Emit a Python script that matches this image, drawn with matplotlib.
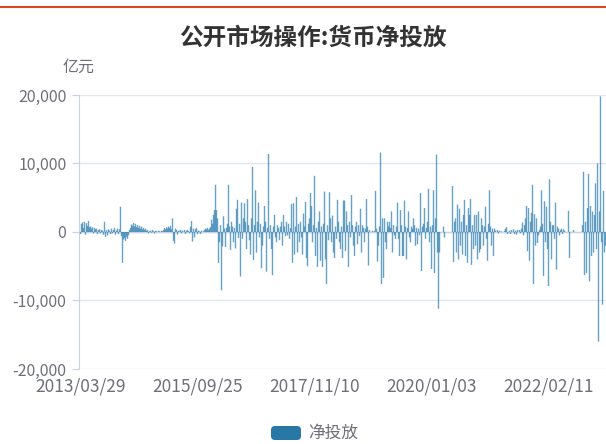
import numpy as np
import matplotlib
matplotlib.use("Agg")
import matplotlib.pyplot as plt
from matplotlib.lines import Line2D
from matplotlib.patches import FancyBboxPatch

plt.rcParams['font.family'] = ['Noto Sans CJK SC', 'DejaVu Sans']

titulo = "公开市场操作:货币净投放"
unidade = "亿元"
serie_nome = "净投放"

# rótulos do eixo x (categorias semanais)
x_labels = ["2013/03/29", "2015/09/25", "2017/11/10", "2020/01/03", "2022/02/11"]
label_step = 117

y_ticks = [-20000, -10000, 0, 10000, 20000]

# valores (亿元), uma barra por coluna
valores = [
    -300, 1200, 1400, 600, 1500, -400, 1300, 900, 1600, 700,
    800, 500, 700, -200, 600, 400, 500, -300, 300, 400,
    -200, 300, 200, -400, 1500, -700, 300, -500, 400, 200,
    -300, 500, -200, 300, 600, -400, 200, 500, -300, 400,
    3700, -600, -4500, -1100, -900, -1300, -700, -1000, -500, 300,
    600, 1100, 900, 1300, 800, 1200, 700, 1000, 600, 900,
    500, 800, 400, 600, 300, 500, 200, 300, -200, 100,
    200, -100, 300, 100, -200, 200, 100, 0, 200, 100,
    0, 200, 100, 300, 600, 400, 700, 500, 800, 600,
    900, 400, 2000, -1300, -1700, 500, 300, -400, 200, 100,
    300, -200, 200, 0, 300, -300, 200, 300, 100, -200,
    800, 1600, -1400, 500, -800, 400, 600, -300, 200, 100,
    -300, 200, 0, 100, 300, 500, 400, 600, 300, 500,
    700, 1800, 1200, 2500, 3200, 6900, 3200, 2000, -4500, -1500,
    1000, -8500, -2100, 2300, 500, -2200, 600, 1200, 6900, 800,
    -2600, 1500, 800, -1500, 600, -2400, 3400, 4700, -900, 1200,
    -6500, 4300, -1000, 2000, 4200, 1500, -2500, 4800, 1000, -1200,
    -3300, 2000, 9500, -4100, 1000, 6100, -3000, 1500, 4300, -800,
    1200, -5300, -2000, 800, 3800, 1500, -5800, 600, 11400, -1000,
    1000, -2500, -6300, 800, 2500, -800, -1500, 1000, 600, -1200,
    800, 1500, -2000, 2500, 800, -600, 1500, -500, 1200, -1000,
    600, 4100, -4500, 4200, -3300, 800, 5100, -3000, 1200, -1500,
    1500, -800, -3300, 2700, 800, 4400, -3800, -5000, 1200, 2000,
    5700, 3800, -1500, 1000, 8200, -3500, 600, -5100, 1500, 3000,
    -4200, 800, -5100, 1200, 5900, -4000, -7600, 1000, -1200, 5800,
    2000, -1500, 2400, -3000, -3800, 800, -1000, 4700, 1500, -1500,
    -2500, 800, -3800, 4600, 4600, -2800, 3000, 1000, -5100, 1500,
    -800, 5400, 1000, -2000, -3500, 800, 1500, -1800, 1000, -600,
    3400, -3000, 1000, 600, -1500, 500, 4800, 800, -4900, 300,
    0, 0, 200, 0, 100, 6000, 500, -4300, -2000, 800,
    11600, -7600, 2000, -6700, 2000, -1500, -2500, 1500, 800, 1500,
    600, 3000, -3000, 1000, -500, -1000, 800, 4300, -1000, -3500,
    3200, 1000, -3500, -3500, 4600, 800, -4000, 600, 3000, -800,
    -1500, 800, 500, 2000, 1000, -2000, 600, -1800, 500, -500,
    5700, -5700, 800, 1200, 3500, -1000, 600, 1500, 6300, -1500,
    800, -5400, 1000, 6100, -6000, 2000, 11300, -3000, -11200, -3000,
    0, 0, 0, 800, -800, 0, 0, 0, 0, 0,
    0, 0, 6700, -4400, 1500, 2000, -3000, 4000, -4000, 3400,
    -2000, 1500, -3300, 2500, 4700, -3500, 1000, -4500, 3500, 2500,
    4800, -4800, 1000, -2500, 2500, -2000, 2500, -4000, 3000, -3000,
    -2500, 2000, 1000, -2000, 800, 3700, -1000, -4200, 1200, 6100,
    800, -2000, 500, -3500, 500, 200, 0, 300, -200, 200,
    0, 100, 0, 0, 200, 500, 700, -300, 0, 200,
    -300, 300, 0, 400, -300, 200, -400, 300, 0, 300,
    -200, 500, 1400, -500, 1000, 2000, 3800, -2800, 3500, -4200,
    1500, 2800, 6900, -7600, 2600, -2000, 2000, -1600, -500, 300,
    800, 6100, 1200, -6400, 4500, -1500, 3700, -2500, -7900, 7700,
    1500, -4000, 1000, 1000, -1000, 4300, -5500, 800, 500, -500,
    300, 500, -300, 400, 200, 0, 0, 0, 3100, -3800,
    0, 0, 0, 300, 0, 0, 0, 0, 0, 0,
    0, 0, 1000, 8800, -6300, 1500, -6000, 3500, 8500, -7200,
    3800, -3500, 3000, -3000, 2500, 7100, -2500, 10000, -16000, 3000,
    19800, -1500, -10600, 6000, -3000, -2000,
]

cor_barra = "#2e7eb0"
cor_texto = "#6e7079"

fig = plt.figure(figsize=(6.06, 4.44), dpi=100)
ax = fig.add_axes([79 / 606, 75 / 444, 527 / 606, 274 / 444])

x = np.arange(len(valores))
barras = ax.bar(x, valores, width=1.4, color=cor_barra, alpha=0.72, linewidth=0, zorder=3)
for b in barras:
    b.set_snap(False)

ax.set_xlim(-1.5, 525.5)
ax.set_ylim(-20000, 20000)
ax.set_yticks(y_ticks)
ax.set_yticklabels([f"{v:,}" for v in y_ticks])
ax.set_xticks([i * label_step for i in range(len(x_labels))])
ax.set_xticklabels(x_labels)

for yv in y_ticks:
    ax.axhline(yv, color="#e0e6f1", lw=1, zorder=1)
ax.axhline(0, color="#c9d3e6", lw=1, zorder=2)

for s in ["top", "right", "bottom"]:
    ax.spines[s].set_visible(False)
ax.spines["left"].set_color("#c9d3e6")
ax.tick_params(axis="y", colors="#c9d3e6", labelcolor=cor_texto, labelsize=11.5, length=5, pad=4)
ax.tick_params(axis="x", length=0, labelcolor=cor_texto, labelsize=12.5, pad=6)

# título e unidade
fig.text(313 / 606, 1 - 38 / 444, titulo, ha="center", va="center",
         fontsize=17, fontweight="bold", color="#333333")
fig.text(79 / 606, 1 - 67 / 444, unidade, ha="center", va="center",
         fontsize=11.5, color=cor_texto)

# linha laranja no topo
fig.add_artist(Line2D([0, 1], [1 - 7 / 444, 1 - 7 / 444], transform=fig.transFigure,
                      color="#d8481c", lw=1.5))

# legenda
caixa = FancyBboxPatch((2.71, 0.04), 0.30, 0.14, boxstyle="round,pad=0,rounding_size=0.04",
                       transform=fig.dpi_scale_trans, facecolor="#2878a6", edgecolor="none")
fig.add_artist(caixa)
fig.text(3.08, 0.11, serie_nome, transform=fig.dpi_scale_trans, ha="left", va="center",
         fontsize=12, color=cor_texto)

plt.savefig("out.png", dpi=100)
